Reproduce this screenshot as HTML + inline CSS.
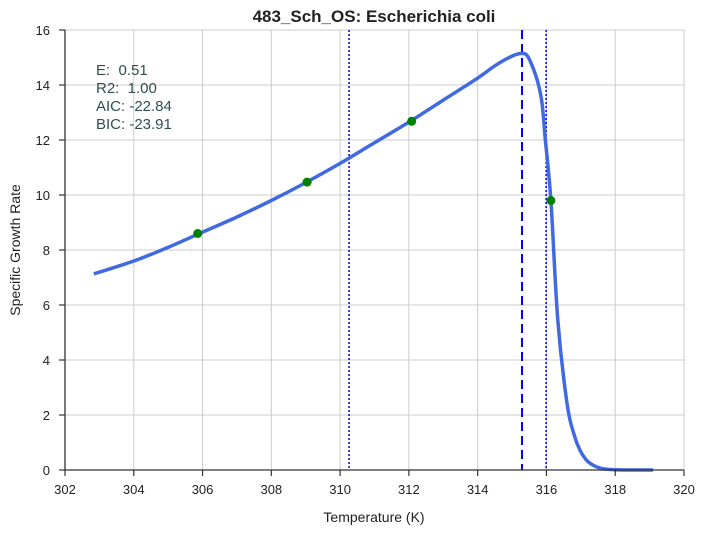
<!DOCTYPE html>
<html><head><meta charset="utf-8"><style>
body{margin:0;background:#fff;font-family:"Liberation Sans",sans-serif}
</style></head><body>
<svg id="chart" width="706" height="533" xmlns="http://www.w3.org/2000/svg" font-family="Liberation Sans, sans-serif">
<text x="374" y="22" text-anchor="middle" font-size="17" font-weight="bold" fill="#222">483_Sch_OS: Escherichia coli</text>
<g id="grid"></g>
<g id="marks"></g>
<g id="axes"></g>
<text x="374" y="522" text-anchor="middle" font-size="14" fill="#222">Temperature (K)</text>
<text transform="translate(20,250) rotate(-90)" text-anchor="middle" font-size="14" fill="#222">Specific Growth Rate</text>
<g font-size="15" fill="#2f4f4f">
<text x="96" y="75">E:&#160;&#160;0.51</text>
<text x="96" y="93">R2:&#160;&#160;1.00</text>
<text x="96" y="111">AIC: -22.84</text>
<text x="96" y="129">BIC: -23.91</text>
</g>
</svg>
<script>
const xTicks=[302,304,306,308,310,312,314,316,318,320];
const yTicks=[0,2,4,6,8,10,12,14,16];
const curveT=[302.84,304,305,306,307,308,309,310,311,312,313,314,314.5,315,315.29,315.45,315.6,315.75,315.87,315.96,316.13,316.33,316.6,316.8,316.97,317.15,317.35,317.6,318,319.1];
const curveV=[7.13,7.6,8.1,8.65,9.2,9.8,10.45,11.15,11.9,12.65,13.45,14.25,14.7,15.05,15.15,15.05,14.65,14.1,13.35,12.1,9.8,5.45,2.4,1.3,0.73,0.38,0.18,0.06,0.01,0.0];
const obsT=[305.86,309.04,312.08,316.13];
const obsV=[8.6,10.47,12.68,9.8];
const dashedT=[315.29];
const dottedT=[310.26,315.99];
const X0=65,X1=684,Y0=470,Y1=30;
const sx=t=>X0+(t-302)/18*(X1-X0);
const sy=v=>Y0-v/16*(Y0-Y1);
const NS="http://www.w3.org/2000/svg";
function mk(tag,attrs,parent){const e=document.createElementNS(NS,tag);for(const k in attrs)e.setAttribute(k,attrs[k]);document.getElementById(parent).appendChild(e);return e;}
xTicks.forEach(t=>{
 const l=mk('line',{x1:sx(t),x2:sx(t),y1:Y1,y2:Y0,stroke:'#cccccc','stroke-width':1},'grid');
 
 
 const tk=mk('line',{x1:sx(t),x2:sx(t),y1:Y0,y2:Y0+6,stroke:'#333','stroke-width':1.2},'axes');
 
 
 const tx=mk('text',{x:sx(t),y:Y0+24,'text-anchor':'middle','font-size':13,fill:'#222'},'axes');
 tx.textContent=t;
 
 
});
yTicks.forEach(v=>{
 const l=mk('line',{x1:X0,x2:X1,y1:sy(v),y2:sy(v),stroke:'#cccccc','stroke-width':1},'grid');
 
 
 const tk=mk('line',{x1:X0-6,x2:X0,y1:sy(v),y2:sy(v),stroke:'#333','stroke-width':1.2},'axes');
 
 
 const tx=mk('text',{x:X0-15,y:sy(v)+5,'text-anchor':'end','font-size':13,fill:'#222'},'axes');
 tx.textContent=v;
 
 
});
const ax=mk('path',{d:`M${X0},${Y1}V${Y0}H${X1}`,fill:'none',stroke:'#333','stroke-width':1.3},'axes');


dottedT.forEach(t=>{
 const l=mk('line',{x1:sx(t),x2:sx(t),y1:Y1,y2:Y0,stroke:'#0000ff','stroke-width':1.5,'stroke-dasharray':'2,2'},'marks');
 
 
});
dashedT.forEach(t=>{
 const l=mk('line',{x1:sx(t),x2:sx(t),y1:Y1,y2:Y0,stroke:'#0000ff','stroke-width':2,'stroke-dasharray':'9,5'},'marks');
 
 
});
const P=curveT.map((t,i)=>[sx(t),sy(curveV[i])]);
let d='M'+P[0][0].toFixed(1)+','+P[0][1].toFixed(1);
for(let i=0;i<P.length-1;i++){
 const p0=P[Math.max(0,i-1)],p1=P[i],p2=P[i+1],p3=P[Math.min(P.length-1,i+2)];
 const c1=[p1[0]+(p2[0]-p0[0])/6,p1[1]+(p2[1]-p0[1])/6];
 const c2=[p2[0]-(p3[0]-p1[0])/6,p2[1]-(p3[1]-p1[1])/6];
 d+=`C${c1[0].toFixed(1)},${c1[1].toFixed(1)} ${c2[0].toFixed(1)},${c2[1].toFixed(1)} ${p2[0].toFixed(1)},${p2[1].toFixed(1)}`;
}
const c=mk('path',{d:d,fill:'none',stroke:'#4169e1','stroke-width':3.5,'stroke-linejoin':'round'},'marks');


obsT.forEach((t,i)=>{
 const p=mk('circle',{cx:sx(t),cy:sy(obsV[i]),r:4.5,fill:'#008000'},'marks');
 
 
});
</script>
</body></html>
